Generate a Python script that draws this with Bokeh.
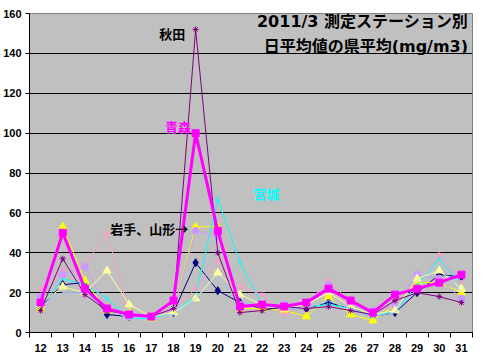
from bokeh.plotting import figure
from bokeh.models import FixedTicker, Label, Range1d
from bokeh.embed import file_html
from bokeh.resources import INLINE

days = list(range(12, 32))

navy_vals     = [13, 24, 25, 9, 8, 8, 10, 35, 21, 15, 12, 12, 12, 15, 12, 8, 10, 20, 29, 28]
aomori_vals   = [15, 50, 22, 12, 9, 8, 16, 100, 51, 13, 14, 13, 15, 22, 16, 10, 19, 22, 25, 29]
yamagata_vals = [12, 53, 26, 11, 10, 7, 11, 53, 53, 12, 12, 11, 8, 18, 9, 6, 14, 25, 25, 20]
miyagi_vals   = [13, 27, 24, 17, 7, 7, 10, 18, 67, 35, 14, 12, 13, 14, 12, 8, 11, 24, 37, 24]
akita_vals    = [11, 37, 19, 11, 9, 8, 12, 152, 40, 10, 11, 13, 12, 13, 11, 9, 16, 20, 18, 15]
pink_vals     = [22, 31, 34, 50, 10, 8, 11, 22, 36, 23, 19, 9, 14, 26, 15, 10, 13, 27, 39, 25]
iwate_vals    = [18, 29, 33, 12, 8, 8, 11, 51, 48, 14, 14, 14, 15, 24, 14, 11, 14, 29, 27, 17]
lyellow_vals  = [14, 23, 20, 31, 14, 8, 10, 17, 30, 19, 14, 12, 14, 20, 13, 9, 11, 27, 31, 22]
lblue_vals    = [13, 20, 20, 12, 7, 8, 9, 17, 28, 15, 13, 12, 12, 16, 12, 8, 10, 22, 34, 20]

y_ticks = [0, 20, 40, 60, 80, 100, 120, 140, 160]

title1 = "2011/3 測定ステーション別"
title2 = "日平均値の県平均(mg/m3)"

p = figure(width=473, height=354, x_range=Range1d(11.5, 31.5), y_range=Range1d(0, 160),
           output_backend="svg", toolbar_location=None,
           min_border_left=28, min_border_top=13, min_border_right=1, min_border_bottom=19)
p.background_fill_color = "#C0C0C0"
p.border_fill_color = "white"
p.outline_line_color = "#808080"
p.xgrid.visible = False
p.ygrid.grid_line_color = "black"
p.ygrid.grid_line_width = 1

p.xaxis.ticker = FixedTicker(ticks=days, minor_ticks=[d - 0.5 for d in days] + [31.5])
p.xaxis.major_tick_out = 0
p.xaxis.major_tick_in = 0
p.xaxis.minor_tick_out = 5
p.xaxis.minor_tick_in = 0
p.xaxis.minor_tick_line_color = "black"
p.xaxis.major_label_standoff = 6

p.yaxis.ticker = FixedTicker(ticks=y_ticks)
p.yaxis.major_tick_out = 4
p.yaxis.major_tick_in = 0
p.yaxis.minor_tick_line_color = None
p.yaxis.major_label_standoff = 4

for ax in (p.xaxis, p.yaxis):
    ax.axis_line_color = "black"
    ax.major_tick_line_color = "black"
    ax.major_label_text_font = "Liberation Sans"
    ax.major_label_text_font_style = "bold"
    ax.major_label_text_font_size = "11px"
    ax.major_label_text_color = "black"

series = [
    (navy_vals, "#000080", "diamond", 8, 1),
    (yamagata_vals, "#FFFF00", "triangle", 8, 1),
    (miyagi_vals, "#00FFFF", "x", 6, 1),
    (pink_vals, "#FF99CC", "asterisk", 6, 1),
    (iwate_vals, "#CC99FF", "circle", 7, 1),
    (lyellow_vals, "#FFFF99", "triangle", 8, 1),
    (lblue_vals, "#99CCFF", None, 0, 1),
    (akita_vals, "#800080", "asterisk", 6, 1),
    (aomori_vals, "#FF00FF", "square", 7, 3),
]
for vals, col, mk, sz, lw in series:
    p.line(days, vals, line_color=col, line_width=lw)
    if mk:
        p.scatter(days, vals, marker=mk, size=sz, fill_color=col, line_color=col)

jp = '"DejaVu Sans", "Noto Sans CJK JP"'
p.add_layout(Label(x=31.3, y=156, text=title1, text_align="right", text_baseline="middle",
                   text_font=jp, text_font_style="bold", text_font_size="16px", text_color="black"))
p.add_layout(Label(x=31.3, y=143.5, text=title2, text_align="right", text_baseline="middle",
                   text_font=jp, text_font_style="bold", text_font_size="16px", text_color="black"))

cjk = "Noto Sans CJK JP"
p.add_layout(Label(x=17.95, y=150, text="秋田", text_align="center", text_baseline="middle",
                   text_font=cjk, text_font_style="bold", text_font_size="13px", text_color="black"))
p.add_layout(Label(x=18.2, y=103.5, text="青森", text_align="center", text_baseline="middle",
                   text_font=cjk, text_font_style="bold", text_font_size="13px", text_color="#FF00FF"))
p.add_layout(Label(x=22.2, y=69.5, text="宮城", text_align="center", text_baseline="middle",
                   text_font=cjk, text_font_style="bold", text_font_size="13px", text_color="#00FFFF"))
p.add_layout(Label(x=15.15, y=52, text="岩手、山形→", text_align="left", text_baseline="middle",
                   text_font=cjk, text_font_style="bold", text_font_size="13px", text_color="black"))

open("out.html", "w").write(file_html(p, INLINE))
